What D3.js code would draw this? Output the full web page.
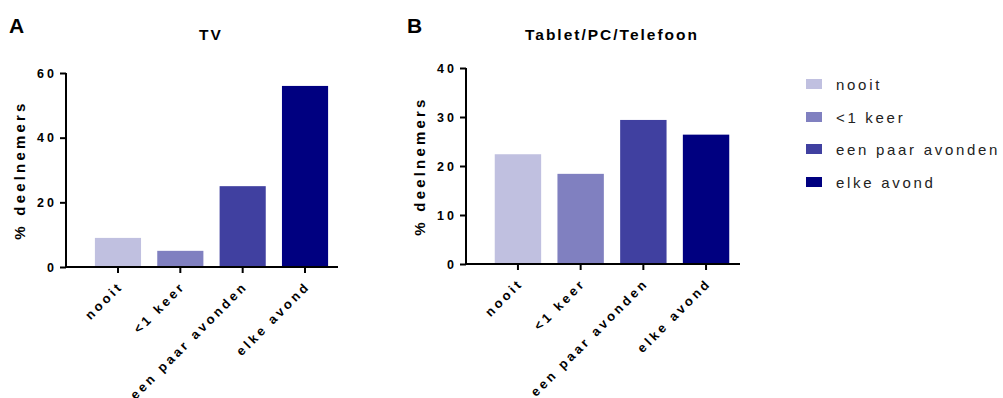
<!DOCTYPE html>
<html>
<head>
<meta charset="utf-8">
<script src="https://cdn.jsdelivr.net/npm/d3@7"></script>
<style>
  body { margin: 0; background: #fff; }
  svg text { font-family: Arial, "Liberation Sans", sans-serif; }
</style>
</head>
<body>
<div id="app"></div>
<script>
// categories + values (percent of participants)
const categories = ["nooit", "<1 keer", "een paar avonden", "elke avond"];
const tvValues = [9.0, 5.0, 25.0, 56.0];
const tabletValues = [22.4, 18.4, 29.4, 26.4];
const tvTicks = [0, 20, 40, 60];
const tabletTicks = [0, 10, 20, 30, 40];
const colors = ["#c0c0e0", "#8080c0", "#4040a0", "#000080"];

const svg = d3.select("#app")
    .append("svg")
        .attr("width", 1003)
        .attr("height", 398);

function drawPanel(opts) {
    const g = svg.append("g");

    // panel letter
    g.append("text")
        .attr("x", opts.letterX)
        .attr("y", 33)
        .attr("font-size", 21)
        .attr("font-weight", "bold")
        .text(opts.letter);

    // title
    g.append("text")
        .attr("x", opts.titleX)
        .attr("y", 40)
        .attr("text-anchor", "middle")
        .attr("font-size", 15.5)
        .attr("font-weight", "bold")
        .attr("letter-spacing", 2)
        .text(opts.title);

    let x = d3.scaleBand()
        .domain(categories)
        .range(opts.bandRange)
        .paddingInner(0.26)
        .paddingOuter(0.13);

    let y = d3.scaleLinear()
        .domain([0, opts.max])
        .range([opts.y0, opts.yTop]);

    // bars
    g.append("g").selectAll("rect")
        .data(opts.values)
        .enter()
        .append("rect")
            .attr("x", (d, i) => x(categories[i]))
            .attr("y", d => y(d))
            .attr("width", x.bandwidth())
            .attr("height", d => y(0) - y(d))
            .attr("fill", (d, i) => colors[i]);

    // y axis
    let yAxis = g.append("g")
        .attr("transform", "translate(" + opts.axisX + ",0)")
        .call(d3.axisLeft(y).tickValues(opts.ticks).tickSize(6).tickPadding(3));
    yAxis.select(".domain").attr("d", "M0," + opts.yTop + "V" + opts.y0).attr("stroke-width", 2);
    yAxis.selectAll(".tick line").attr("stroke-width", 2);
    yAxis.selectAll("text")
        .attr("font-size", 12.5)
        .attr("font-weight", "bold")
        .attr("letter-spacing", 3)
        .attr("fill", "#000");

    // x axis
    let xAxis = g.append("g")
        .attr("transform", "translate(0," + opts.y0 + ")")
        .call(d3.axisBottom(x).tickSize(6).tickSizeOuter(0));
    xAxis.select(".domain").attr("d", "M" + opts.axisX + ",0H" + opts.axisEnd).attr("stroke-width", 2);
    xAxis.selectAll(".tick line").attr("stroke-width", 2);
    xAxis.selectAll("text")
        .attr("font-size", 13)
        .attr("font-weight", "bold")
        .attr("letter-spacing", 3.1)
        .attr("fill", "#000")
        .attr("text-anchor", "end")
        .attr("dy", 0)
        .attr("y", 0)
        .attr("transform", "translate(6,20)rotate(-45)");

    // y label
    g.append("text")
        .attr("transform", "translate(" + (opts.axisX - 41) + "," + ((opts.y0 + opts.yTop) / 2) + ")rotate(-90)")
        .attr("text-anchor", "middle")
        .attr("font-size", 15)
        .attr("font-weight", "bold")
        .attr("letter-spacing", 3.2)
        .text("% deelnemers");
}

drawPanel({
    letter: "A", letterX: 9, title: "TV", titleX: 211,
    values: tvValues, ticks: tvTicks, max: 60,
    axisX: 66, axisEnd: 338, yTop: 73, y0: 267,
    bandRange: [86.8, 336.2]
});

drawPanel({
    letter: "B", letterX: 407, title: "Tablet/PC/Telefoon", titleX: 612,
    values: tabletValues, ticks: tabletTicks, max: 40,
    axisX: 466, axisEnd: 740, yTop: 68, y0: 264,
    bandRange: [486.6, 737.4]
});

// legend
let legend = svg.append("g").attr("transform", "translate(806,0)");
let rowY = [84, 117, 149, 182];
legend.selectAll("rect")
    .data(categories)
    .enter()
    .append("rect")
        .attr("x", 0)
        .attr("y", (d, i) => rowY[i] - 5)
        .attr("width", 16)
        .attr("height", 10)
        .attr("fill", (d, i) => colors[i]);
legend.selectAll("text")
    .data(categories)
    .enter()
    .append("text")
        .attr("x", 30)
        .attr("y", (d, i) => rowY[i] + 6)
        .attr("font-size", 15)
        .attr("letter-spacing", 2.7)
        .attr("fill", "#222")
        .text(d => d);
</script>
</body>
</html>
